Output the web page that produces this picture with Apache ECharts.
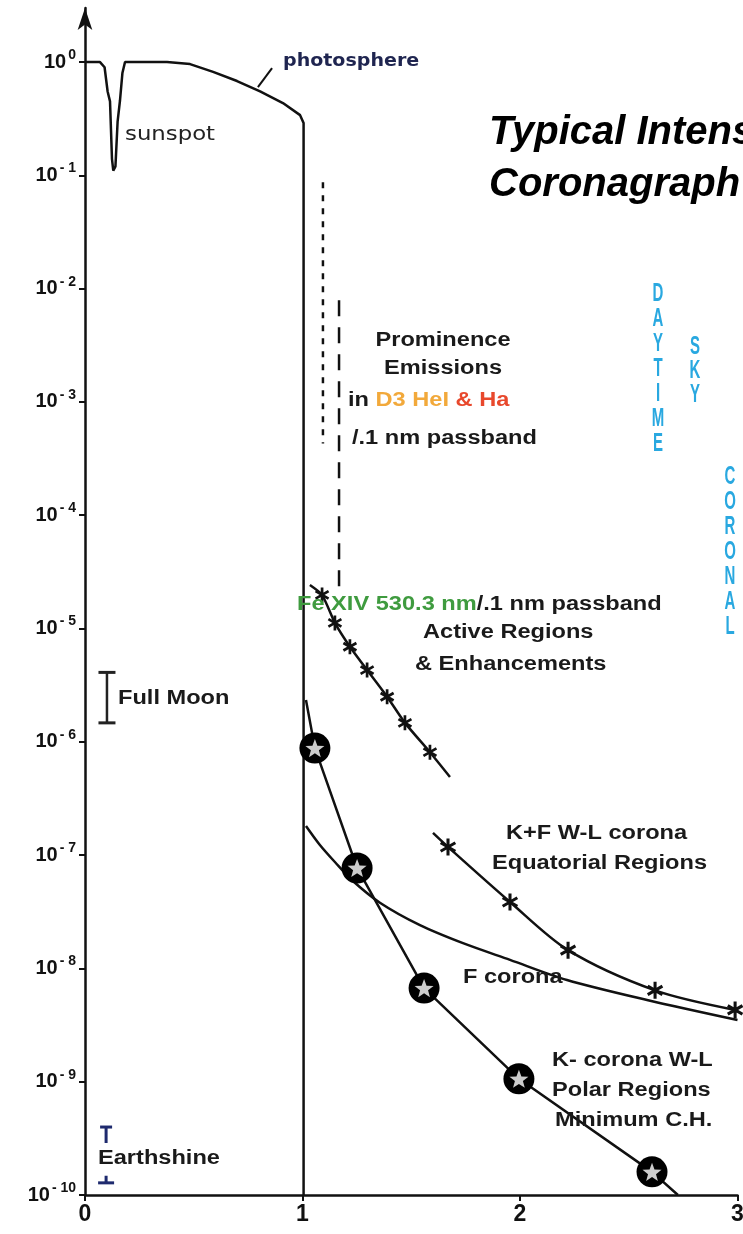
<!DOCTYPE html>
<html>
<head>
<meta charset="utf-8">
<script src="https://cdn.jsdelivr.net/npm/echarts@6/dist/echarts.min.js"></script>
<style>
  html, body { margin: 0; padding: 0; background: #fff; }
  #chart { width: 743px; height: 1234px; }
</style>
</head>
<body>
<div id="chart"></div>
<script>
// distance from sun centre (solar radii) vs. intensity relative to disk centre

// photosphere with a sunspot dip, then the limb
var photoX = [0, 0.069, 0.09, 0.104, 0.115, 0.124, 0.13, 0.14, 0.15, 0.161, 0.172, 0.184, 0.377, 0.483, 0.589, 0.699, 0.805, 0.91, 0.989, 1.005, 1.005];
var photoY = [1, 1, 0.9, 0.55, 0.45, 0.14, 0.11, 0.12, 0.3, 0.46, 0.8, 1, 1, 0.96, 0.82, 0.68, 0.55, 0.435, 0.34, 0.29, 1e-10];

// prominence emission, two dashed ranges
var prom1X = [1.094, 1.094];
var prom1Y = [0.087, 4.3e-4];
var prom2X = [1.168, 1.168];
var prom2Y = [7.9e-3, 2.3e-5];

// Fe XIV 530.3 nm
var feX = [1.034, 1.09, 1.149, 1.218, 1.297, 1.389, 1.471, 1.586, 1.678];
var feY = [2.42e-5, 1.98e-5, 1.12e-5, 6.9e-6, 4.3e-6, 2.5e-6, 1.47e-6, 8.1e-7, 4.9e-7];
var feMark = [0, 1, 1, 1, 1, 1, 1, 1, 0];

// K+F white light corona, equatorial
var kfX = [1.6, 1.669, 1.954, 2.221, 2.621, 2.989];
var kfY = [1.57e-7, 1.18e-7, 3.86e-8, 1.45e-8, 6.4e-9, 4.3e-9];
var kfMark = [0, 1, 1, 1, 1, 1];

// F corona
var fcX = [1.016, 1.08, 1.149, 1.228, 1.356, 1.54, 1.738, 1.954, 2.216, 2.584, 3.0];
var fcY = [1.81e-7, 1.23e-7, 8.7e-8, 6.0e-8, 3.8e-8, 2.41e-8, 1.67e-8, 1.19e-8, 7.9e-9, 5.26e-9, 3.5e-9];

// K corona, polar regions
var kpX = [1.016, 1.057, 1.251, 1.559, 1.995, 2.607, 2.726];
var kpY = [2.34e-6, 8.8e-7, 7.7e-8, 6.7e-9, 1.06e-9, 1.6e-10, 1e-10];
var kpMark = [0, 1, 1, 1, 1, 1, 0];

// reference levels
var moonX = [0.101, 0.101];
var moonY = [4.1e-6, 1.47e-6];
var earthX = [0.097, 0.097];
var earthTopY = [3.98e-10, 2.88e-10];
var earthBotY = [1.48e-10, 1.28e-10];

// leader tick from curve to "photosphere"
var leadX = [0.795, 0.86];
var leadY = [0.6, 0.885];

var xTicks = [0, 1, 2, 3];
var yTicks = [1, 1e-1, 1e-2, 1e-3, 1e-4, 1e-5, 1e-6, 1e-7, 1e-8, 1e-9, 1e-10];

var SANS = 'Liberation Sans, Arial, sans-serif';

function asteriskPath(n) {
  var d = '', r = 10, w = 1.8;
  for (var i = 0; i < n; i++) {
    var a = Math.PI * i / n + Math.PI / 2, c = Math.cos(a), s = Math.sin(a);
    var p = [[-r, -w], [r, -w], [r, w], [-r, w]].map(function (q) {
      return (q[0] * c - q[1] * s).toFixed(2) + ',' + (q[0] * s + q[1] * c).toFixed(2);
    });
    d += 'M' + p[0] + 'L' + p[1] + 'L' + p[2] + 'L' + p[3] + 'Z';
  }
  return 'path://' + d;
}

function starPath() {
  var d = '';
  for (var i = 0; i < 10; i++) {
    var r = i % 2 ? 4.2 : 10, a = -Math.PI / 2 + i * Math.PI / 5;
    d += (i ? 'L' : 'M') + (r * Math.cos(a)).toFixed(2) + ',' + (r * Math.sin(a)).toFixed(2);
  }
  return 'path://' + d + 'Z';
}

function pts(xs, ys, marks) {
  return xs.map(function (x, i) {
    var item = { value: [x, ys[i]] };
    if (marks && !marks[i]) item.symbol = 'none';
    return item;
  });
}
function marked(xs, ys, marks) {
  var out = [];
  xs.forEach(function (x, i) { if (marks[i]) out.push([x, ys[i]]); });
  return out;
}

function txt(text, x, y, o) {
  o = o || {};
  return {
    type: 'text', x: x, y: y, scaleX: o.sx || 1.18, z: 100,
    style: {
      text: text, x: 0, y: 0,
      fill: o.color || '#1a1a1a',
      fontSize: o.size || 20,
      fontWeight: o.weight || 'bold',
      fontFamily: o.family || SANS,
      align: o.align || 'left', textAlign: o.align || 'left',
      verticalAlign: o.va || 'middle', textVerticalAlign: o.va || 'middle',
      lineHeight: o.lh,
      rich: o.rich
    }
  };
}

var AST = asteriskPath(3);
var STAR = starPath();
var blue = '#29a8e0';

var chart = echarts.init(document.getElementById('chart'));

chart.setOption({
  animation: false,
  backgroundColor: '#fff',
  title: {
    text: 'Typical Intensities\nCoronagraph Observations',
    left: 484, top: 102,
    textStyle: { fontSize: 40, fontWeight: 'bold', fontStyle: 'italic', fontFamily: SANS, color: '#000', lineHeight: 52 }
  },
  grid: { left: 85, right: 5.5, top: 8, bottom: 39, outerBoundsMode: 'none', containLabel: false },
  xAxis: {
    type: 'value', min: 0, max: 3, interval: 1,
    axisLine: { onZero: false, lineStyle: { color: '#111', width: 2.5 } },
    axisTick: { length: 6, lineStyle: { color: '#111', width: 2 } },
    axisLabel: { margin: 8, fontSize: 23, fontWeight: 'bold', fontFamily: SANS, color: '#111',
      customValues: xTicks },
    splitLine: { show: false }
  },
  yAxis: {
    type: 'log', logBase: 10, min: 1e-10, max: 3,
    axisLine: { lineStyle: { color: '#111', width: 2.5 }, symbol: ['none', 'arrow'], symbolSize: [11, 22] },
    axisTick: { length: 6, lineStyle: { color: '#111', width: 2 }, customValues: yTicks },
    axisLabel: {
      margin: 9, customValues: yTicks,
      formatter: function (v) {
        var e = Math.round(Math.log10(v));
        return '{b|10}{s|' + (e === 0 ? '0' : '- ' + (-e)) + '}';
      },
      rich: {
        b: { fontSize: 20, fontWeight: 'bold', fontFamily: SANS, color: '#111', lineHeight: 28 },
        s: { fontSize: 14, fontWeight: 'bold', fontFamily: SANS, color: '#111', lineHeight: 14, verticalAlign: 'top', padding: [0, 0, 0, 2] }
      }
    },
    splitLine: { show: false }
  },
  series: [
    { name: 'photosphere', type: 'line', data: pts(photoX, photoY), symbol: 'none',
      lineStyle: { color: '#111', width: 2.5 } },
    { name: 'leader', type: 'line', data: pts(leadX, leadY), symbol: 'none',
      lineStyle: { color: '#111', width: 2 } },
    { name: 'prominence 1', type: 'line', data: pts(prom1X, prom1Y), symbol: 'none',
      lineStyle: { color: '#111', width: 2.5, type: [6, 7] } },
    { name: 'prominence 2', type: 'line', data: pts(prom2X, prom2Y), symbol: 'none',
      lineStyle: { color: '#111', width: 2.5, type: [16, 11] } },
    { name: 'Fe XIV', type: 'line', data: pts(feX, feY, feMark), smooth: 0.2,
      symbol: AST, symbolSize: 15, symbolKeepAspect: true,
      itemStyle: { color: '#111' }, lineStyle: { color: '#111', width: 2.5 } },
    { name: 'K+F corona', type: 'line', data: pts(kfX, kfY, kfMark), smooth: 0.3,
      symbol: AST, symbolSize: 17, symbolKeepAspect: true,
      itemStyle: { color: '#111' }, lineStyle: { color: '#111', width: 2.5 } },
    { name: 'F corona', type: 'line', data: pts(fcX, fcY), smooth: 0.3, symbol: 'none',
      lineStyle: { color: '#111', width: 2.5 } },
    { name: 'K corona polar', type: 'line', data: pts(kpX, kpY, kpMark),
      symbol: 'circle', symbolSize: 31, z: 4,
      itemStyle: { color: '#000' }, lineStyle: { color: '#111', width: 2.5 } },
    { name: 'K corona stars', type: 'scatter', data: marked(kpX, kpY, kpMark),
      symbol: STAR, symbolSize: 19, symbolKeepAspect: true, z: 5,
      itemStyle: { color: '#fff' } },
    { name: 'Full Moon', type: 'line', data: pts(moonX, moonY), symbol: 'rect', symbolSize: [17, 3],
      itemStyle: { color: '#222' }, lineStyle: { color: '#222', width: 2.5 } },
    { name: 'Earthshine top', type: 'line', data: pts(earthX, earthTopY, [1, 0]), symbol: 'rect', symbolSize: [12, 3],
      itemStyle: { color: '#1e2a6e' }, lineStyle: { color: '#1e2a6e', width: 3 } },
    { name: 'Earthshine bottom', type: 'line', data: pts(earthX, earthBotY, [0, 1]), symbol: 'rect', symbolSize: [16, 3],
      itemStyle: { color: '#1e2a6e' }, lineStyle: { color: '#1e2a6e', width: 3 } }
  ],
  graphic: [
    txt('photosphere', 283, 62, { family: 'DejaVu Sans, sans-serif', weight: 'bold', size: 17, sx: 1.12, color: '#1f2550' }),
    txt('sunspot', 125, 135, { family: 'DejaVu Sans, sans-serif', weight: 'normal', size: 19, sx: 1.2, color: '#222' }),
    txt('Prominence', 443, 340, { align: 'center' }),
    txt('Emissions', 443, 368, { align: 'center' }),
    txt('{k|in }{o|D3 HeI }{r|& Ha}', 348, 400, { rich: {
      k: { fill: '#1a1a1a', fontSize: 20, fontWeight: 'bold', fontFamily: SANS },
      o: { fill: '#f2a93b', fontSize: 20, fontWeight: 'bold', fontFamily: SANS },
      r: { fill: '#e8482c', fontSize: 20, fontWeight: 'bold', fontFamily: SANS } } }),
    txt('/.1 nm passband', 352, 438),
    txt('{g|Fe XIV 530.3 nm}{k|/.1 nm passband}', 297, 604, { rich: {
      g: { fill: '#3f9b3f', fontSize: 20, fontWeight: 'bold', fontFamily: SANS },
      k: { fill: '#1a1a1a', fontSize: 20, fontWeight: 'bold', fontFamily: SANS } } }),
    txt('Active Regions', 423, 632),
    txt('& Enhancements', 415, 664),
    txt('Full Moon', 118, 698),
    txt('K+F W-L corona', 506, 833),
    txt('Equatorial Regions', 492, 863),
    txt('F corona', 463, 977),
    txt('K- corona W-L', 552, 1060),
    txt('Polar Regions', 552, 1090),
    txt('Minimum C.H.', 555, 1120),
    txt('Earthshine', 98, 1158),
    txt('D\nA\nY\nT\nI\nM\nE', 658, 282, { align: 'center', va: 'top', lh: 25, size: 25, sx: 0.6, color: blue }),
    txt('S\nK\nY', 695, 335, { align: 'center', va: 'top', lh: 24, size: 25, sx: 0.6, color: blue }),
    txt('C\nO\nR\nO\nN\nA\nL', 730, 465, { align: 'center', va: 'top', lh: 25, size: 25, sx: 0.6, color: blue })
  ]
});
</script>
</body>
</html>
